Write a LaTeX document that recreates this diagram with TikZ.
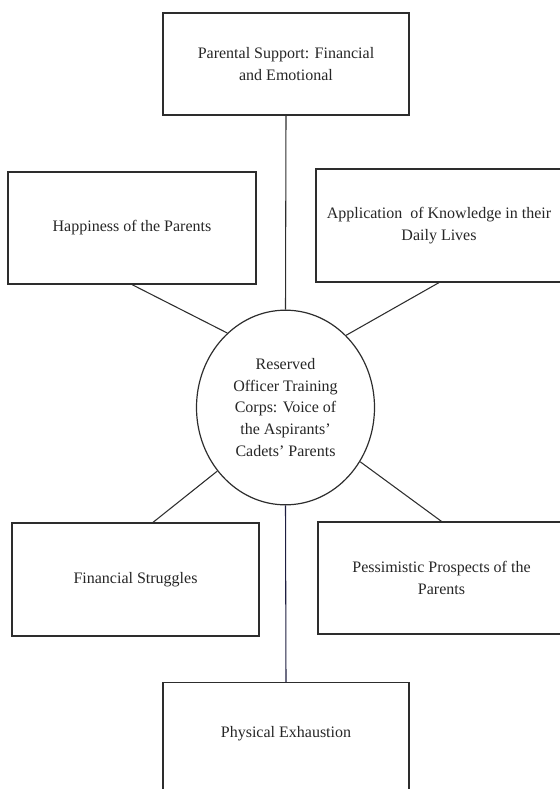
\documentclass[tikz,border=0pt]{standalone}
\usepackage{fontspec}
\setmainfont{Liberation Serif}
\usepackage{tikz}
\usetikzlibrary{shapes.geometric}
\definecolor{inkline}{RGB}{45,45,45}
\definecolor{navyline}{RGB}{30,30,65}

\begin{document}
\begin{tikzpicture}[x=0.75pt, y=-0.75pt]
        \useasboundingbox (0,0) rectangle (560,789);
        \clip (0,0) rectangle (560,789);
        \begin{scope}[box/.style={draw=inkline, line width=0.9pt, rectangle, align=center, text=black!85, minimum width=184.5pt, minimum height=76.5pt, inner sep=2pt, font=\fontsize{12}{16.5}\selectfont},
                hub/.style={draw=inkline, line width=0.9pt, ellipse, align=center, text=black!85, minimum width=133.5pt, minimum height=146pt, inner sep=0pt, font=\fontsize{12}{16.3}\selectfont},
                every edge/.style={draw=inkline, line width=0.8pt}]
                \node[box] (support) at (286,64) {Parental Support: Financial\\and Emotional};
                \node[box, minimum width=186pt, minimum height=84pt] (happy) at (132,228) {Happiness of the Parents};
                \node[box, minimum height=84.75pt] (apply) at (439,225.5) {Application~ of Knowledge in their\\Daily Lives};
                \node[hub] (roc) at (285.5,407.5) {Reserved\\Officer Training\\Corps: Voice of\\the Aspirants’\\Cadets’ Parents};
                \node[box, minimum width=185.25pt, minimum height=84.75pt] (money) at (135.5,579.5) {Financial Struggles};
                \node[box, minimum width=185.25pt, minimum height=84pt] (gloom) at (441.5,578) {Pessimistic Prospects of the\\Parents};
                \node[box, minimum height=90pt, text depth=16pt, anchor=north] (tired) at (286,682) {Physical Exhaustion};

                \path (support.south) edge (roc.north);
                \path (happy.south) edge (roc.128);
                \path (apply.south) edge (roc.50);
                \path (money.73) edge (roc.223);
                \path (gloom.north) edge (roc.-36);
                \path (roc.south) edge[draw=navyline] (tired.north);
        \end{scope}
\end{tikzpicture}
\end{document}
